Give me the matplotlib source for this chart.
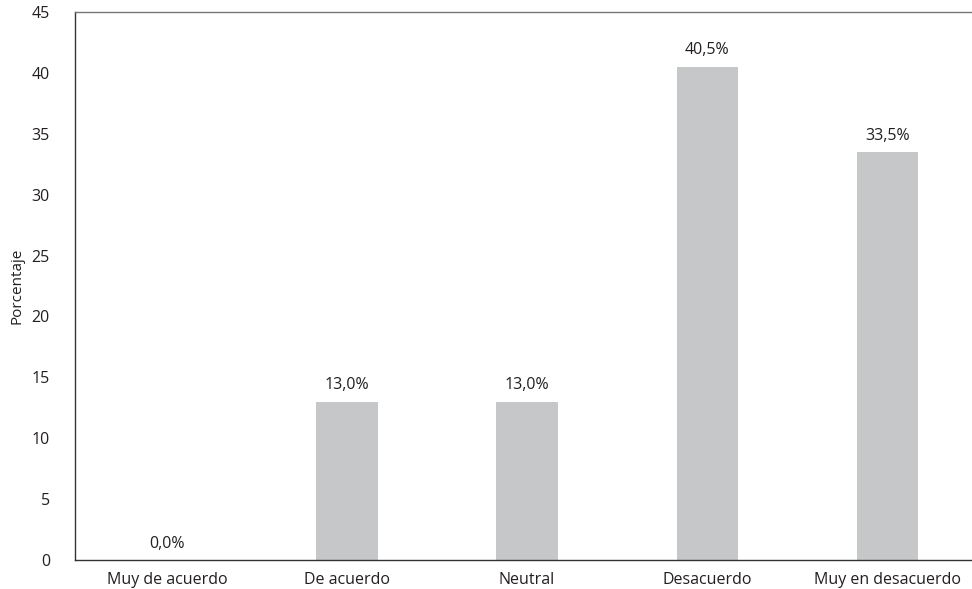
import matplotlib
matplotlib.use('Agg')
import matplotlib.pyplot as plt

plt.rcParams['font.family'] = ['Open Sans', 'DejaVu Sans']

categorias = ['Muy de acuerdo', 'De acuerdo', 'Neutral', 'Desacuerdo', 'Muy en desacuerdo']
porcentajes = [0.0, 13.0, 13.0, 40.5, 33.5]
etiquetas = ['0,0%', '13,0%', '13,0%', '40,5%', '33,5%']
yticks = [0, 5, 10, 15, 20, 25, 30, 35, 40, 45]

fig = plt.figure(figsize=(9.72, 5.89), dpi=100)
ax = fig.add_axes([75 / 972, 1 - 560 / 589, 1 - 75 / 972, 548 / 589])

x = range(len(categorias))
bars = ax.bar(x, porcentajes, width=0.34, color='#c6c7c9')
for b, t in zip(bars, etiquetas):
    ax.annotate(t, (b.get_x() + b.get_width() / 2, b.get_height()),
                xytext=(0, 6), textcoords='offset points',
                ha='center', va='bottom', fontsize=11.5, color='#231f20')

ax.set_xlim(-0.51, 4.47)
ax.set_ylim(0, 45)
ax.set_yticks(yticks)
ax.set_xticks(list(x))
ax.set_xticklabels(categorias)
ax.tick_params(length=0, labelsize=11.5, labelcolor='#231f20')
ax.tick_params(axis='y', pad=18)
ax.tick_params(axis='x', pad=9)
ax.set_ylabel('Porcentaje', fontsize=11, color='#231f20')
ax.yaxis.set_label_coords(-0.056, 0.5)

ax.spines['right'].set_visible(False)
ax.spines['left'].set_color('#333333')
ax.spines['bottom'].set_color('#333333')
ax.spines['top'].set_color('#777777')
for s in ax.spines.values():
    s.set_linewidth(1.0)

fig.savefig('out.png', dpi=100)
